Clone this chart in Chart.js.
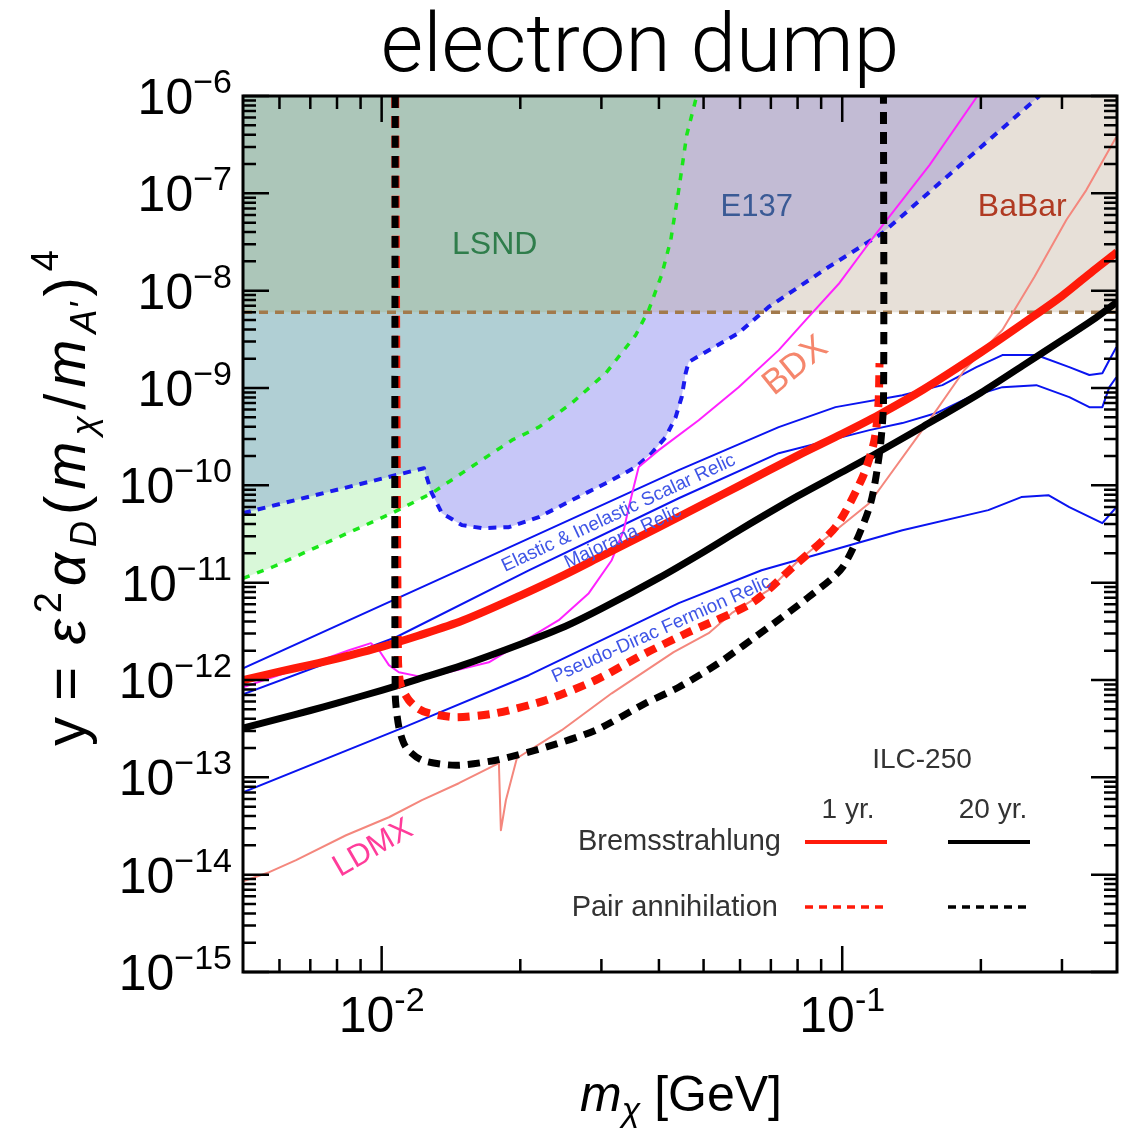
<!DOCTYPE html>
<html>
<head>
<meta charset="utf-8">
<script src="https://cdn.jsdelivr.net/npm/chart.js@4.4.1/dist/chart.umd.min.js"></script>
<style>
  html, body { margin: 0; padding: 0; background: #ffffff; }
  canvas { display: block; }
</style>
</head>
<body>
<canvas id="chart" width="1121" height="1129" style="width:1121px;height:1129px"></canvas>
<script>
// ---- axis ranges and ticks ----
const X_MIN = 0.005, X_MAX = 0.395;
const Y_MIN = 1e-15, Y_MAX = 1e-6;
const yDecadeTicks = [1e-15, 1e-14, 1e-13, 1e-12, 1e-11, 1e-10, 1e-9, 1e-8, 1e-7, 1e-6];
const yDecadeExps = ['−15', '−14', '−13', '−12', '−11', '−10', '−9', '−8', '−7', '−6'];
const yMinorMantissas = [2, 3, 4, 5, 6, 7, 8, 9];
const xLabelTicks = [0.01, 0.1];
const xLabelExps = ['-2', '-1'];
const xMinorTicks = [0.006, 0.007, 0.008, 0.009, 0.02, 0.03, 0.04, 0.05, 0.06, 0.07, 0.08, 0.09, 0.2, 0.3];

// ---- ILC-250 electron dump reach ----
const bremsX = [0.005, 0.006, 0.007, 0.008, 0.01, 0.012, 0.015, 0.02, 0.025, 0.03, 0.04, 0.05, 0.06, 0.08, 0.1, 0.12, 0.15, 0.2, 0.25, 0.3, 0.35, 0.395];
const brems1yr = [1.0e-12, 1.22e-12, 1.43e-12, 1.66e-12, 2.19e-12, 2.85e-12, 4.08e-12, 7.37e-12, 1.21e-11, 1.87e-11, 3.72e-11, 6.41e-11, 1.0e-10, 2.02e-10, 3.39e-10, 5.29e-10, 9.65e-10, 2.32e-9, 4.79e-9, 8.82e-9, 1.59e-8, 2.49e-8];
const brems20yr = [3.2e-13, 4.0e-13, 4.86e-13, 5.79e-13, 7.84e-13, 1.02e-12, 1.42e-12, 2.33e-12, 3.54e-12, 5.4e-12, 1.12e-11, 2.07e-11, 3.5e-11, 7.74e-11, 1.37e-10, 2.2e-10, 4.03e-10, 8.95e-10, 1.77e-9, 3.1e-9, 5.0e-9, 7.64e-9];

const pair1yrX = [0.0107, 0.01085, 0.0110, 0.01146, 0.01205, 0.01267, 0.01449, 0.0177, 0.02272, 0.02917, 0.03744, 0.04641, 0.06357, 0.0777, 0.0967, 0.1107, 0.1175, 0.1199, 0.1205];
const pair1yr = [1e-6, 1.6e-12, 8.83e-13, 6.2e-13, 5.01e-13, 4.56e-13, 4.15e-13, 4.56e-13, 6.2e-13, 1.0e-12, 1.89e-12, 3.1e-12, 6.16e-12, 1.41e-11, 3.72e-11, 1.21e-10, 2.91e-10, 7.0e-10, 1.8e-9];
const pair20yrX = [0.0107, 0.0107, 0.0109, 0.01129, 0.01223, 0.01449, 0.0177, 0.02272, 0.02917, 0.03744, 0.04416, 0.0539, 0.0692, 0.0845, 0.1002, 0.1146, 0.1205, 0.1229, 0.1229];
const pair20yr = [1e-6, 7.3e-13, 3.27e-13, 2.04e-13, 1.5e-13, 1.33e-13, 1.5e-13, 2.04e-13, 3.05e-13, 5.78e-13, 8.43e-13, 1.49e-12, 3.49e-12, 7.1e-12, 1.44e-11, 5.97e-11, 2.14e-10, 7.0e-10, 1e-6];

// ---- existing bounds ----
const e137X = [0.005, 0.01235, 0.01285, 0.01351, 0.01494, 0.01651, 0.01889, 0.02194, 0.02587, 0.03066, 0.03562, 0.03858, 0.04137, 0.04349, 0.04481, 0.04572, 0.04641, 0.05958, 0.0692, 0.0934, 0.1223, 0.1889, 0.2679];
const e137Y = [5.18e-11, 1.5e-10, 8.31e-11, 5.18e-11, 3.9e-11, 3.63e-11, 3.72e-11, 4.71e-11, 7.04e-11, 1.05e-10, 1.54e-10, 2.14e-10, 3.13e-10, 5.02e-10, 8.06e-10, 1.42e-9, 1.85e-9, 3.67e-9, 6.79e-9, 1.75e-8, 3.91e-8, 2.36e-7, 1e-6];
const lsndX = [0.005, 0.00578, 0.01053, 0.01285, 0.01586, 0.01918, 0.02194, 0.02587, 0.03066, 0.03562, 0.038, 0.04055, 0.04243, 0.04416, 0.04596, 0.0483];
const lsndY = [1.11e-11, 1.44e-11, 5.18e-11, 8.31e-11, 1.61e-10, 2.91e-10, 3.96e-10, 7.0e-10, 1.42e-9, 3.5e-9, 6.32e-9, 1.45e-8, 3.31e-8, 1.08e-7, 3.97e-7, 1e-6];
const babarX = [0.005, 0.395];
const babarY = [6e-9, 6e-9];

// ---- projections ----
const bdxX = [0.005, 0.00662, 0.00849, 0.00948, 0.00987, 0.01037, 0.0109, 0.01205, 0.01365, 0.01709, 0.02087, 0.02424, 0.02817, 0.03159, 0.03355, 0.0344, 0.03526, 0.03615, 0.03997, 0.04879, 0.05958, 0.0728, 0.0833, 0.09865, 0.1187, 0.1547, 0.1966];
const bdxY = [8.43e-13, 1.32e-12, 2.02e-12, 2.39e-12, 2.02e-12, 1.42e-12, 1.2e-12, 1.09e-12, 1.17e-12, 1.52e-12, 2.69e-12, 4.12e-12, 7.8e-12, 1.7e-11, 3.46e-11, 5.97e-11, 9.6e-11, 1.54e-10, 2.3e-10, 4.67e-10, 1.02e-9, 2.45e-9, 4.99e-9, 1.2e-8, 3.91e-8, 1.95e-7, 1e-6];
const ldmxX = [0.005, 0.0057, 0.00652, 0.00837, 0.01037, 0.01223, 0.01471, 0.01797, 0.01815, 0.01861, 0.01966, 0.0246, 0.03159, 0.04305, 0.05129, 0.05754, 0.0692, 0.08043, 0.1146, 0.1547, 0.1842, 0.2227, 0.2613, 0.3066, 0.3388, 0.3936];
const ldmxY = [8.55e-15, 1.06e-14, 1.41e-14, 2.54e-14, 3.89e-14, 5.82e-14, 8.7e-14, 1.4e-13, 2.86e-14, 5.82e-14, 1.57e-13, 3.05e-13, 7.3e-13, 1.93e-12, 3.03e-12, 4.86e-12, 8.37e-12, 1.7e-11, 6.58e-11, 4.67e-10, 1.53e-9, 3.94e-9, 1.38e-8, 5.32e-8, 1.08e-7, 3.79e-7];

// ---- relic density targets ----
const scalarX = [0.005, 0.01471, 0.04416, 0.0728, 0.0967, 0.1351, 0.165, 0.1956, 0.2227, 0.2639, 0.3112, 0.344, 0.3671, 0.3802, 0.3937];
const scalarY = [1.32e-12, 1.34e-11, 1.43e-10, 3.96e-10, 6.36e-10, 8.43e-10, 1.07e-9, 1.64e-9, 2.18e-9, 2.18e-9, 1.64e-9, 1.36e-9, 1.42e-9, 1.94e-9, 2.63e-9];
const majoranaX = [0.005, 0.01074, 0.02087, 0.04416, 0.0728, 0.1146, 0.1351, 0.1601, 0.1889, 0.2227, 0.2639, 0.3112, 0.344, 0.3671, 0.3802, 0.3937];
const majoranaY = [7.14e-13, 2.75e-12, 1.34e-11, 7.37e-11, 2.14e-10, 3.69e-10, 4.36e-10, 5.53e-10, 8.06e-10, 1.02e-9, 1.07e-9, 8.06e-10, 6.36e-10, 6.36e-10, 1.02e-9, 1.29e-9];
const pseudoDiracX = [0.005, 0.01107, 0.02087, 0.04416, 0.06683, 0.1351, 0.2076, 0.2448, 0.2803, 0.3112, 0.3671, 0.3937];
const pseudoDiracY = [7.03e-14, 3.2e-13, 1.12e-12, 6.16e-12, 1.34e-11, 3.46e-11, 5.56e-11, 7.57e-11, 7.93e-11, 5.97e-11, 4.09e-11, 5.97e-11];

// ---- in-plot labels, anchored in data coordinates ----
const regionLabels = [
  { text: 'LSND', x: 0.0176, y: 2.93e-8, angle: 0, size: 32, color: '#2f7d4b' },
  { text: 'E137', x: 0.0652, y: 7.23e-8, angle: 0, size: 31, color: '#3a5a95' },
  { text: 'BaBar', x: 0.246, y: 7.23e-8, angle: 0, size: 32, color: '#b03a22' },
  { text: 'BDX', x: 0.0792, y: 1.68e-9, angle: -39, size: 35, color: '#f5866c' },
  { text: 'LDMX', x: 0.00958, y: 1.87e-14, angle: -30, size: 31, color: '#ff3c9a' },
  { text: 'Elastic & Inelastic Scalar Relic', x: 0.0327, y: 5.18e-11, angle: -25, size: 19, color: '#3f55e6' },
  { text: 'Majorana Relic', x: 0.0334, y: 2.95e-11, angle: -25, size: 19, color: '#3f55e6' },
  { text: 'Pseudo-Dirac Fermion Relic', x: 0.0405, y: 3.3e-12, angle: -24, size: 19, color: '#3f55e6' }
];

const FONT = "'Liberation Sans', Arial, Helvetica, sans-serif";

function pts(xs, ys) {
  return xs.map((x, i) => ({ x: x, y: ys[i] }));
}

const datasets = [
  // filled exclusion regions (painted first, bottom to top: E137, BaBar, LSND)
  { label: 'E137', data: pts(e137X, e137Y), order: 30, fill: 'end',
    backgroundColor: 'rgba(130,130,240,0.45)', borderColor: '#1a1aee', borderWidth: 4, borderDash: [8, 7] },
  { label: 'BaBar', data: pts(babarX, babarY), order: 29, fill: 'end',
    backgroundColor: 'rgba(185,165,140,0.34)', borderColor: '#a27a4c', borderWidth: 3.5, borderDash: [9, 7] },
  { label: 'LSND', data: pts(lsndX, lsndY), order: 28, fill: 'end',
    backgroundColor: 'rgba(120,230,120,0.28)', borderColor: '#19e619', borderWidth: 3.5, borderDash: [7, 8] },
  // relic targets
  { label: 'Elastic & Inelastic Scalar Relic', data: pts(scalarX, scalarY), order: 20, borderColor: '#0a14f0', borderWidth: 2 },
  { label: 'Majorana Relic', data: pts(majoranaX, majoranaY), order: 19, borderColor: '#0a14f0', borderWidth: 2 },
  { label: 'Pseudo-Dirac Fermion Relic', data: pts(pseudoDiracX, pseudoDiracY), order: 18, borderColor: '#0a14f0', borderWidth: 2 },
  // other projections
  { label: 'LDMX', data: pts(ldmxX, ldmxY), order: 17, borderColor: '#f4877d', borderWidth: 2 },
  { label: 'BDX', data: pts(bdxX, bdxY), order: 16, borderColor: '#ff22ff', borderWidth: 2 },
  // ILC-250 reach
  { label: 'Bremsstrahlung 1 yr.', data: pts(bremsX, brems1yr), order: 10, borderColor: '#ff1a0a', borderWidth: 8, tension: 0.3 },
  { label: 'Bremsstrahlung 20 yr.', data: pts(bremsX, brems20yr), order: 9, borderColor: '#000000', borderWidth: 7, tension: 0.3 },
  { label: 'Pair annihilation 1 yr.', data: pts(pair1yrX, pair1yr), order: 8, borderColor: '#ff1a0a', borderWidth: 8, borderDash: [12, 8], tension: 0.25 },
  { label: 'Pair annihilation 20 yr.', data: pts(pair20yrX, pair20yr), order: 7, borderColor: '#000000', borderWidth: 7, borderDash: [12, 8], tension: 0.25 }
];
datasets.forEach(d => { d.pointRadius = 0; d.clip = 0; if (d.fill === undefined) d.fill = false; });

function fontOf(size, italic, weight) {
  return (italic ? 'italic ' : '') + (weight || 'normal') + ' ' + size + 'px ' + FONT;
}

// draw a run of text pieces with individual size / italic / baseline shift,
// optionally separated by a fixed gap
function drawRich(ctx, segs, x, y, align, gap) {
  gap = gap || 0;
  let total = 0;
  segs.forEach(s => { ctx.font = fontOf(s.size, s.italic); s.w = ctx.measureText(s.t).width; total += s.w; });
  total += gap * (segs.length - 1);
  let cx = align === 'right' ? x - total : (align === 'center' ? x - total / 2 : x);
  ctx.textAlign = 'left';
  segs.forEach(s => { ctx.font = fontOf(s.size, s.italic); ctx.fillText(s.t, cx, y + (s.dy || 0)); cx += s.w + gap; });
}

const decor = {
  id: 'decor',
  afterDatasetsDraw(chart) {
    const ctx = chart.ctx, xs = chart.scales.x, ys = chart.scales.y, a = chart.chartArea;

    // in-plot labels
    ctx.save();
    ctx.textBaseline = 'middle';
    ctx.textAlign = 'center';
    regionLabels.forEach(l => {
      ctx.save();
      ctx.translate(xs.getPixelForValue(l.x), ys.getPixelForValue(l.y));
      ctx.rotate(l.angle * Math.PI / 180);
      ctx.font = fontOf(l.size, false);
      ctx.fillStyle = l.color;
      ctx.fillText(l.text, 0, 0);
      ctx.restore();
    });
    ctx.restore();

    // inward tick marks on all four sides
    ctx.save();
    ctx.strokeStyle = '#000';
    ctx.lineWidth = 2.5;
    ctx.beginPath();
    const xTick = (v, len) => {
      const p = xs.getPixelForValue(v);
      ctx.moveTo(p, a.bottom); ctx.lineTo(p, a.bottom - len);
      ctx.moveTo(p, a.top); ctx.lineTo(p, a.top + len);
    };
    const yTick = (v, len) => {
      const p = ys.getPixelForValue(v);
      ctx.moveTo(a.left, p); ctx.lineTo(a.left + len, p);
      ctx.moveTo(a.right, p); ctx.lineTo(a.right - len, p);
    };
    xLabelTicks.forEach(v => xTick(v, 26));
    xMinorTicks.forEach(v => xTick(v, 13));
    yDecadeTicks.forEach(v => {
      yTick(v, 26);
      yMinorMantissas.forEach(m => { if (v * m < Y_MAX) yTick(v * m, 13); });
    });
    ctx.stroke();
    ctx.lineWidth = 3;
    ctx.strokeRect(a.left, a.top, a.right - a.left, a.bottom - a.top);
    ctx.restore();

    // legend
    ctx.save();
    ctx.fillStyle = '#333333';
    ctx.textBaseline = 'alphabetic';
    ctx.font = fontOf(28, false);
    ctx.textAlign = 'center';
    ctx.fillText('ILC-250', 922, 768);
    ctx.fillText('1 yr.', 848, 818);
    ctx.fillText('20 yr.', 993, 818);
    ctx.textAlign = 'right';
    ctx.font = fontOf(29, false);
    ctx.fillText('Bremsstrahlung', 781, 850);
    ctx.fillText('Pair annihilation', 778, 916);
    const seg = (x0, x1, y, color, dash, w) => {
      ctx.beginPath(); ctx.setLineDash(dash); ctx.strokeStyle = color; ctx.lineWidth = w;
      ctx.moveTo(x0, y); ctx.lineTo(x1, y); ctx.stroke();
    };
    seg(805, 887, 842, '#ff1a0a', [], 4);
    seg(948, 1030, 842, '#000000', [], 4);
    seg(805, 887, 907, '#ff1a0a', [8, 6], 3.5);
    seg(948, 1030, 907, '#000000', [8, 6], 3.5);
    ctx.restore();
  },
  afterDraw(chart) {
    const ctx = chart.ctx, xs = chart.scales.x, ys = chart.scales.y;
    ctx.save();
    ctx.fillStyle = '#000';
    ctx.textBaseline = 'alphabetic';

    // title
    ctx.font = "300 82px Roboto, 'Liberation Sans', sans-serif";
    ctx.textAlign = 'center';
    ctx.fillText('electron dump', 640, 71);

    // y tick labels
    yDecadeTicks.forEach((v, i) => {
      const p = ys.getPixelForValue(v);
      drawRich(ctx, [{ t: '10', size: 50 }, { t: yDecadeExps[i], size: 34, dy: -21 }], 232, p + 18, 'right');
    });
    // x tick labels
    xLabelTicks.forEach((v, i) => {
      const p = xs.getPixelForValue(v);
      drawRich(ctx, [{ t: '10', size: 50 }, { t: xLabelExps[i], size: 34, dy: -21 }], p, 1032, 'center');
    });

    // x axis title
    drawRich(ctx, [
      { t: 'm', size: 50, italic: true },
      { t: 'χ', size: 34, italic: true, dy: 10 },
      { t: ' [GeV]', size: 50 }
    ], 681, 1111, 'center');

    // y axis title
    ctx.translate(85, 498);
    ctx.rotate(-Math.PI / 2);
    drawRich(ctx, [
      { t: 'y = ', size: 58 },
      { t: 'ε', size: 58, italic: true },
      { t: '2', size: 38, dy: -24 },
      { t: 'α', size: 58, italic: true },
      { t: 'D', size: 36, italic: true, dy: 11 },
      { t: '(', size: 58 },
      { t: 'm', size: 58, italic: true },
      { t: 'χ', size: 36, italic: true, dy: 11 },
      { t: '/', size: 58 },
      { t: 'm', size: 58, italic: true },
      { t: "A'", size: 36, italic: true, dy: 11 },
      { t: ')', size: 58 },
      { t: '4', size: 38, dy: -27 }
    ], 0, 0, 'center', 6);
    ctx.restore();
  }
};

new Chart(document.getElementById('chart'), {
  type: 'line',
  data: { datasets: datasets },
  options: {
    responsive: false,
    animation: false,
    devicePixelRatio: 1,
    layout: { padding: { left: 243, right: 4, top: 96, bottom: 157 } },
    elements: { line: { tension: 0, borderCapStyle: 'butt', borderJoinStyle: 'round' }, point: { radius: 0 } },
    plugins: {
      legend: { display: false },
      tooltip: { enabled: false },
      title: { display: false },
      filler: { drawTime: 'beforeDatasetsDraw' }
    },
    scales: {
      x: { type: 'logarithmic', min: X_MIN, max: X_MAX, display: false },
      y: { type: 'logarithmic', min: Y_MIN, max: Y_MAX, display: false }
    }
  },
  plugins: [decor]
});
</script>
</body>
</html>
